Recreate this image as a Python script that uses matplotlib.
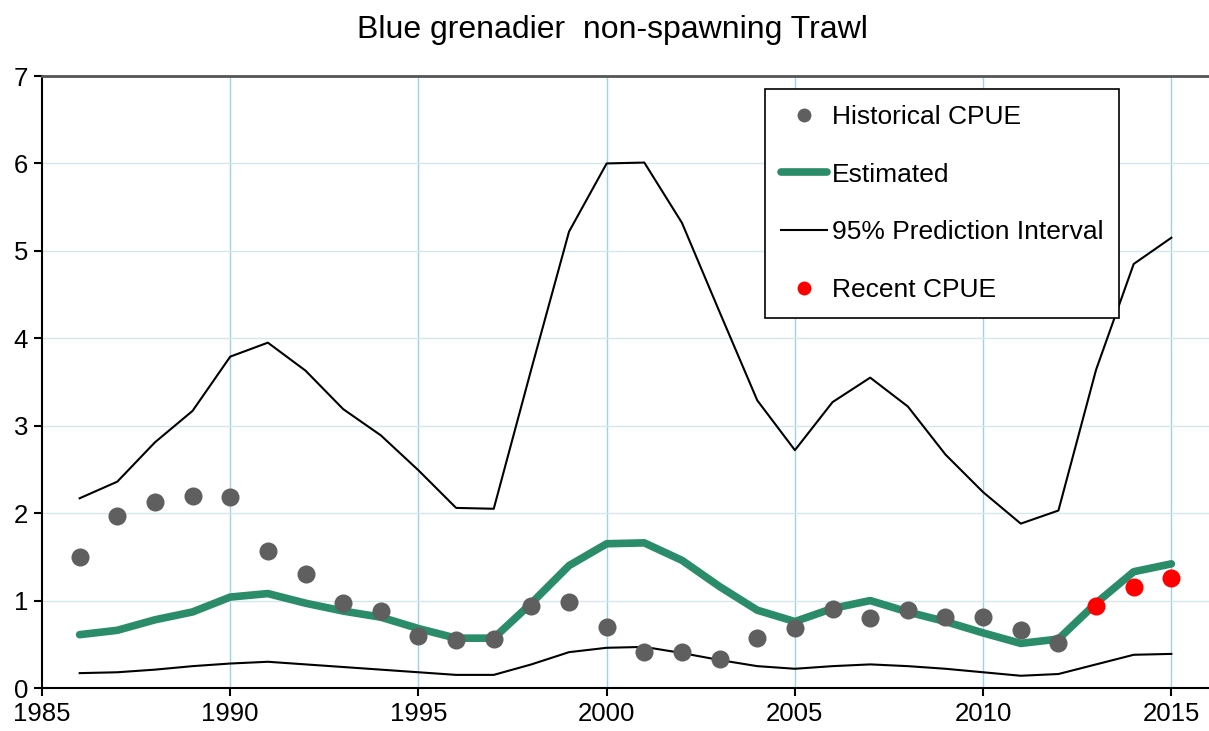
import numpy as np
import matplotlib.pyplot as plt
from matplotlib.lines import Line2D

plt.rcParams['font.family'] = ['Liberation Sans', 'DejaVu Sans']

# CPUE series
years_hist = list(range(1986, 2013))
cpue_hist = [1.50, 1.97, 2.13, 2.20, 2.19, 1.57, 1.30, 0.97, 0.88, 0.60,
             0.55, 0.56, 0.94, 0.98, 0.70, 0.41, 0.41, 0.33, 0.57, 0.69,
             0.90, 0.80, 0.89, 0.81, 0.81, 0.66, 0.52]

years_recent = [2013, 2014, 2015]
cpue_recent = [0.94, 1.15, 1.26]

years_est = list(range(1986, 2016))
estimated = [0.61, 0.66, 0.78, 0.87, 1.04, 1.08, 0.97, 0.88, 0.81, 0.68,
             0.57, 0.57, 0.97, 1.40, 1.65, 1.66, 1.46, 1.16, 0.89, 0.76,
             0.91, 1.00, 0.87, 0.76, 0.63, 0.51, 0.56, 0.97, 1.33, 1.42]
upper_pi = [2.17, 2.36, 2.81, 3.17, 3.79, 3.95, 3.63, 3.19, 2.89, 2.49,
            2.06, 2.05, 3.65, 5.22, 6.00, 6.01, 5.32, 4.30, 3.29, 2.72,
            3.27, 3.55, 3.22, 2.67, 2.24, 1.88, 2.03, 3.64, 4.85, 5.15]
lower_pi = [0.17, 0.18, 0.21, 0.25, 0.28, 0.30, 0.27, 0.24, 0.21, 0.18,
            0.15, 0.15, 0.27, 0.41, 0.46, 0.47, 0.40, 0.32, 0.25, 0.22,
            0.25, 0.27, 0.25, 0.22, 0.18, 0.14, 0.16, 0.27, 0.38, 0.39]

fig = plt.figure(figsize=(12.09, 7.31), dpi=100)
ax = fig.add_axes([42/1209, 1-688/731, 1-42/1209, (688-76)/731])

green = '#2b8c69'
ax.plot(years_est, upper_pi, color='black', lw=1.5, zorder=3)
ax.plot(years_est, lower_pi, color='black', lw=1.5, zorder=3)
ax.plot(years_est, estimated, color=green, lw=5.5, solid_capstyle='round', zorder=4)
ax.plot(years_hist, cpue_hist, 'o', color='#5f5f5f', ms=13, mec='none', zorder=5)
ax.plot(years_recent, cpue_recent, 'o', color='#ff0000', ms=13, mec='none', zorder=5)

ax.set_xlim(1985, 2016)
ax.set_ylim(0, 7)
ax.set_xticks(range(1985, 2016, 5))
ax.set_yticks(range(0, 8))
for x in range(1990, 2016, 5):
    ax.axvline(x, color='#9fd2ea', lw=1, zorder=1)
for y in range(1, 7):
    ax.axhline(y, color='#d4e7ea', lw=1, zorder=1)

ax.spines['right'].set_visible(False)
ax.spines['top'].set_color('#555555')
ax.spines['top'].set_linewidth(2)
ax.spines['left'].set_linewidth(1.5)
ax.spines['bottom'].set_linewidth(1.5)
ax.tick_params(direction='out', length=6, width=1.5, labelsize=18.5, pad=4)

handles = [
    Line2D([], [], ls='none', marker='o', color='#5f5f5f', ms=10, mec='none'),
    Line2D([], [], color=green, lw=5.5, solid_capstyle='round'),
    Line2D([], [], color='black', lw=1.5),
    Line2D([], [], ls='none', marker='o', color='#ff0000', ms=10, mec='none'),
]
labels = ['Historical CPUE', 'Estimated', '95% Prediction Interval', 'Recent CPUE']
leg = ax.legend(handles, labels, loc='upper left',
                bbox_to_anchor=(765/1209, 1-89/731), bbox_transform=fig.transFigure,
                fontsize=19, frameon=True, fancybox=False, framealpha=1,
                edgecolor='black', handlelength=1.75, handletextpad=0.19,
                labelspacing=1.28, borderpad=0.6, borderaxespad=0)
leg.get_frame().set_linewidth(1.2)
leg.set_zorder(10)

fig.text(612/1209, 1-38/731, 'Blue grenadier  non-spawning Trawl',
         ha='center', va='baseline', fontsize=23)

fig.savefig('out.png', dpi=100)
